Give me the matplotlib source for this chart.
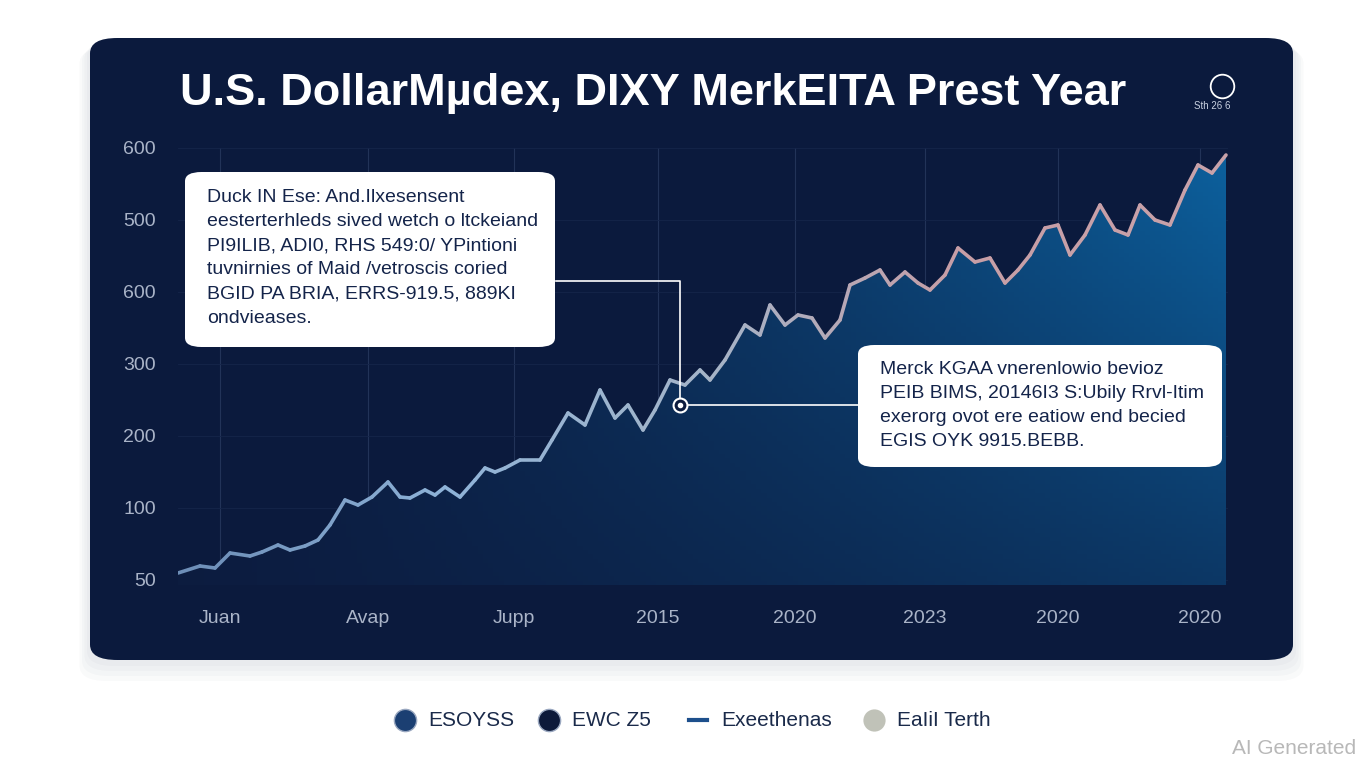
import matplotlib.pyplot as plt
import numpy as np
from matplotlib.patches import FancyBboxPatch, Polygon
from matplotlib.collections import LineCollection
from matplotlib.colors import LinearSegmentedColormap

plt.rcParams['font.family'] = ['Liberation Sans', 'DejaVu Sans']

# (x: px from plot left, y: px above baseline)
xs = [0, 22, 37, 52, 72, 84, 100, 112, 127, 140, 152, 167, 180, 194, 210, 222, 232, 247, 257, 267,
      282, 297, 307, 317, 327, 342, 362, 374, 390, 407, 422, 437, 450, 465, 477, 492, 507, 522, 532, 547,
      567, 582, 592, 607, 620, 634, 647, 662, 672, 687, 702, 712, 727, 740, 752, 767, 780, 797, 812, 827,
      840, 852, 867, 880, 892, 907, 922, 937, 950, 962, 977, 992, 1007, 1020, 1034, 1048]
ys = [7, 14, 12, 27, 24, 28, 35, 30, 34, 40, 55, 80, 75, 83, 98, 83, 82, 90, 85, 93,
      83, 100, 112, 108, 112, 120, 120, 140, 167, 155, 190, 162, 175, 150, 170, 200, 195, 210, 200, 220,
      255, 245, 275, 255, 265, 262, 242, 260, 295, 302, 310, 295, 308, 297, 290, 305, 332, 318, 322, 297,
      310, 325, 352, 355, 325, 345, 375, 350, 345, 375, 360, 355, 390, 415, 407, 425]
ytick_pos = [0, 72, 144, 216, 288, 360, 432]
ytick_lab = ["50", "100", "200", "300", "600", "500", "600"]
xtick_pos = [42, 190, 336, 480, 617, 747, 880, 1022]
xtick_lab = ["Juan", "Avap", "Jupp", "2015", "2020", "2023", "2020", "2020"]
title = "U.S. DollarMµdex, DIXY MerkEITA Prest Year"
box1 = ("Duck IN Ese: And.Ilxesensent\neesterterhleds sived wetch o ltckeiand\n"
        "PI9ILIB, ADI0, RHS 549:0/ YPintioni\ntuvnirnies of Maid /vetroscis coried\n"
        "BGID PA BRIA, ERRS-919.5, 889KI\nondvieases.")
box2 = "Merck KGAA vnerenlowio bevioz\nPEIB BIMS, 20146I3 S:Ubily Rrvl-Itim\nexerorg ovot ere eatiow end becied\nEGIS OYK 9915.BEBB."
legend_lab = ["ESOYSS", "EWC Z5", "Exeethenas", "EaIiI Terth"]
legend_col = ["#1b3f72", "#0d1a3a", "#1d4f8c", "#c0c2b8"]

W, H = 1368, 768
fig = plt.figure(figsize=(13.68, 7.68), dpi=100)
fig.patch.set_facecolor("white")

def fx(px): return px / W
def fy(py): return 1 - py / H

# shadow + panel
for i in range(4):
    d = 6 + i * 5
    fig.patches.append(FancyBboxPatch((fx(90 - d / 2), fy(660 + d)), fx(1203 + d), (622 + d / 2) / H,
                                      boxstyle="round,pad=0,rounding_size=0.02", transform=fig.transFigure,
                                      fc="#203050", ec="none", alpha=0.025, zorder=0))
fig.patches.append(FancyBboxPatch((fx(90), fy(660)), fx(1203), 622 / H,
                                  boxstyle="round,pad=0,rounding_size=0.02", transform=fig.transFigure,
                                  fc="#0b1a3d", ec="none", zorder=1))

fig.text(fx(180), fy(93), title, color="white", fontsize=32.5, fontweight="bold", va="center", zorder=5)
fig.lines.append(plt.Line2D([fx(1222)], [fy(86)], marker="o", ms=17, mfc="none", mec="white", mew=1.3,
                            transform=fig.transFigure))
fig.text(fx(1212), fy(106), "Sth 26 6", color="#c8d0e0", fontsize=7, ha="center", va="center", zorder=5)

ax = fig.add_axes([fx(178), fy(585), fx(1050), 437 / H])
ax.set_facecolor("none")
ax.set_zorder(3)
ax.set_axisbelow(True)
ax.set_xlim(0, 1050)
ax.set_ylim(-5, 432)
for s in ax.spines.values():
    s.set_visible(False)
ax.set_yticks(ytick_pos)
ax.set_yticklabels(ytick_lab)
ax.set_xticks(xtick_pos)
ax.set_xticklabels(xtick_lab)
ax.tick_params(length=0, colors="#aab4c8", labelsize=14)
ax.tick_params(axis="y", pad=16)
ax.tick_params(axis="x", pad=18)
ax.grid(axis="x", color="#223358", lw=0.8)
ax.grid(axis="y", color="#15254a", lw=0.6)

# gradient fill
gx = np.linspace(0, 1, 200)
gy = np.linspace(0, 1, 100)[:, None]
img = np.zeros((100, 200, 4))
base = np.array([0.05, 0.11, 0.25])
hi = np.array([0.05, 0.38, 0.62])
t = (gx[None, :] ** 1.3) * (0.4 + 0.6 * gy)
img[..., :3] = base + (hi - base) * t[..., None]
img[..., 3] = 1
im = ax.imshow(img, extent=[0, 1050, -5, 432], origin="lower", aspect="auto", zorder=1)
poly = Polygon(list(zip(xs, ys)) + [(xs[-1], -5), (xs[0], -5)], closed=True, transform=ax.transData)
im.set_clip_path(poly)

pts = np.array([xs, ys]).T.reshape(-1, 1, 2)
segs = np.concatenate([pts[:-1], pts[1:]], axis=1)
cmap = LinearSegmentedColormap.from_list("l", ["#6e8fb8", "#8fb3d8", "#a4b4c8", "#c79ea6", "#c8a2aa"])
lc = LineCollection(segs, cmap=cmap, lw=2.6, zorder=2, capstyle="round", joinstyle="round")
lc.set_array(np.linspace(0, 1, len(segs)))
ax.add_collection(lc)

# annotations
mx, my = 502, 175
ax.plot([378, mx, mx], [299, 299, my], color="white", lw=1.2, zorder=4)
ax.plot([mx, 680], [my, my], color="white", lw=1.2, zorder=4)
ax.plot(mx, my, "o", ms=10, mfc="#0b1a3d", mec="white", mew=1.5, zorder=5)
ax.plot(mx, my, "o", ms=3, color="white", zorder=6)

fig.patches.append(FancyBboxPatch((fx(185), fy(347)), fx(370), 175 / H,
                                  boxstyle="round,pad=0,rounding_size=0.012", transform=fig.transFigure,
                                  fc="white", ec="none", zorder=6))
fig.text(fx(207), fy(189), box1, color="#14244a", fontsize=14, va="top", linespacing=1.55, zorder=7)
fig.patches.append(FancyBboxPatch((fx(858), fy(467)), fx(364), 122 / H,
                                  boxstyle="round,pad=0,rounding_size=0.012", transform=fig.transFigure,
                                  fc="white", ec="none", zorder=6))
fig.text(fx(880), fy(361), box2, color="#14244a", fontsize=14, va="top", linespacing=1.55, zorder=7)

# legend
lx = [405, 549, 698, 874]
for i in range(4):
    if i == 2:
        fig.lines.append(plt.Line2D([fx(lx[i] - 9), fx(lx[i] + 9)], [fy(720)] * 2, color=legend_col[i],
                                    lw=3, transform=fig.transFigure))
    else:
        fig.lines.append(plt.Line2D([fx(lx[i])], [fy(720)], marker="o", ms=16, mfc=legend_col[i],
                                    mec="#9aa8c0" if i < 2 else "none", mew=1, transform=fig.transFigure))
    fig.text(fx(lx[i] + 23), fy(720), legend_lab[i], color="#1a2a4a", fontsize=15, va="center")

fig.text(fx(1356), fy(748), "AI Generated", color="#b8b8b8", fontsize=15, ha="right", va="center")

fig.savefig("out.png", dpi=100, facecolor="white")
